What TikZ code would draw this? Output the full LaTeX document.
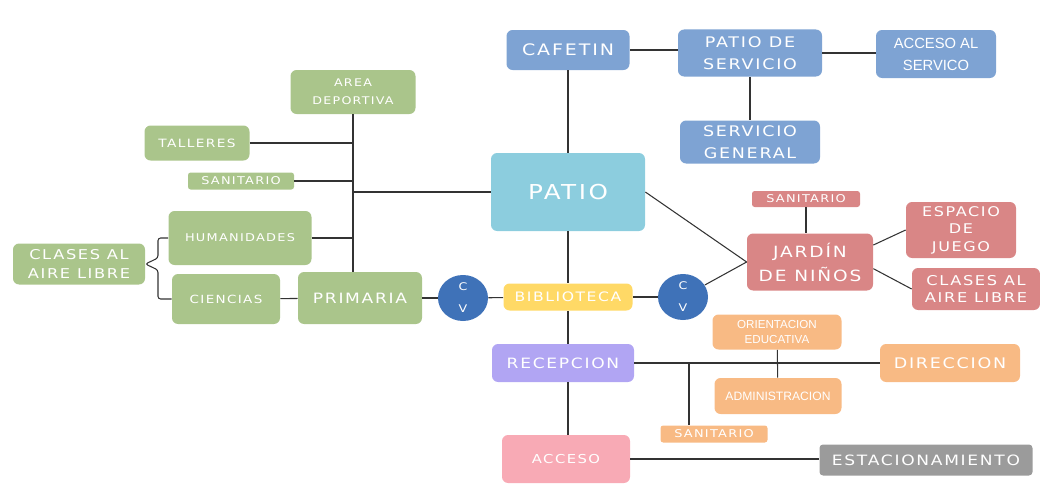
\documentclass[tikz,border=0pt]{standalone}
\usepackage{fontspec}
\newfontfamily\boxfont[LetterSpace=12, FakeStretch=1.2]{DejaVu Sans}
\newfontfamily\narrowfont{Liberation Sans}
\usetikzlibrary{positioning, shapes.geometric}
\definecolor{servblue}{HTML}{7EA3D3}
\definecolor{patiocyan}{HTML}{8CCDDE}
\definecolor{primgreen}{HTML}{AAC58B}
\definecolor{cvblue}{HTML}{3F72B8}
\definecolor{biblioyellow}{HTML}{FFD966}
\definecolor{kinderred}{HTML}{D98686}
\definecolor{adminorange}{HTML}{F8BA84}
\definecolor{recepviolet}{HTML}{B1A5F3}
\definecolor{accesopink}{HTML}{F8AAB5}
\definecolor{parkgray}{HTML}{9B9B9B}
\tikzstyle{box} = [rectangle, rounded corners=3.5pt, text=white, align=center, inner sep=0pt, font=\boxfont\fontsize{6.5}{11}\selectfont]
\tikzstyle{bluebox} = [box, fill=servblue]
\tikzstyle{greenbox} = [box, fill=primgreen]
\tikzstyle{redbox} = [box, fill=kinderred]
\tikzstyle{orangebox} = [box, fill=adminorange]
\tikzstyle{smallbox} = [font=\boxfont\fontsize{6.1}{7}\selectfont, rounded corners=1.5pt]
\tikzstyle{cvcircle} = [ellipse, fill=cvblue, text=white, align=center, inner sep=0pt, minimum width=1cm, minimum height=0.92cm, font=\boxfont\fontsize{6}{12.5}\selectfont]
\tikzstyle{link} = [draw=black!80, line width=0.6pt]

\begin{document}
\begin{tikzpicture}
\useasboundingbox (0,0) rectangle (20.8,-9.9);
%servicio
\node(cafetin)at(11.36,-1.0)[bluebox, minimum width=2.46cm, minimum height=0.8cm, font=\boxfont\fontsize{9}{11}\selectfont]{CAFETIN};
\node(patioserv)at(15.0,-1.06)[bluebox, minimum width=2.88cm, minimum height=0.94cm, font=\boxfont\fontsize{8.3}{12.5}\selectfont]{PATIO DE\\SERVICIO};
\node(accserv)at(18.72,-1.08)[bluebox, minimum width=2.4cm, minimum height=0.96cm, font=\narrowfont\fontsize{8.4}{12.5}\selectfont]{ACCESO AL\\SERVICO};
\node(servgen)at(15.0,-2.84)[bluebox, minimum width=2.8cm, minimum height=0.86cm, font=\boxfont\fontsize{8.3}{12.5}\selectfont]{SERVICIO\\GENERAL};
\node(patio)at(11.36,-3.84)[box, fill=patiocyan, minimum width=3.08cm, minimum height=1.56cm, font=\boxfont\fontsize{11.7}{13}\selectfont]{PATIO};

%primaria
\node(deportiva)at(7.06,-1.84)[greenbox, minimum width=2.5cm, minimum height=0.88cm, font=\boxfont\fontsize{6}{10.2}\selectfont]{AREA\\DEPORTIVA};
\node(talleres)at(3.94,-2.86)[greenbox, minimum width=2.1cm, minimum height=0.7cm]{TALLERES};
\node(sanprim)at(4.82,-3.62)[greenbox, smallbox, minimum width=2.12cm, minimum height=0.34cm]{SANITARIO};
\node(humanidades)at(4.8,-4.76)[greenbox, minimum width=2.86cm, minimum height=1.08cm, font=\boxfont\fontsize{6.1}{8}\selectfont]{HUMANIDADES};
\node(clasesprim)at(1.58,-5.28)[greenbox, minimum width=2.64cm, minimum height=0.82cm, font=\boxfont\fontsize{7.7}{10.8}\selectfont]{CLASES AL\\AIRE LIBRE};
\node(ciencias)at(4.52,-5.98)[greenbox, minimum width=2.16cm, minimum height=1.0cm, font=\boxfont\fontsize{6.4}{8}\selectfont]{CIENCIAS};
\node(primaria)at(7.2,-5.96)[greenbox, minimum width=2.48cm, minimum height=1.04cm, font=\boxfont\fontsize{8.1}{10}\selectfont]{PRIMARIA};
\coordinate(bracea)at(3.16,-5.16);
\coordinate(braceb)at(3.16,-5.40);

%centro
\node(cvprim)at(9.26,-5.96)[cvcircle]{C\\V};
\node(biblioteca)at(11.36,-5.94)[box, fill=biblioyellow, minimum width=2.58cm, minimum height=0.54cm, font=\boxfont\fontsize{7.4}{9}\selectfont]{BIBLIOTECA};
\node(cvkinder)at(13.66,-5.94)[cvcircle]{C\\V};

%jardin de ninos
\node(jardin)at(16.2,-5.24)[redbox, minimum width=2.52cm, minimum height=1.14cm, font=\boxfont\fontsize{8.8}{13.6}\selectfont]{JARDÍN\\DE NIÑOS};
\node(sankinder)at(16.12,-3.98)[redbox, smallbox, minimum width=2.16cm, minimum height=0.32cm]{SANITARIO};
\node(espacio)at(19.22,-4.6)[redbox, minimum width=2.2cm, minimum height=1.12cm, font=\boxfont\fontsize{7.6}{9.9}\selectfont]{ESPACIO\\DE\\JUEGO};
\node(claseskinder)at(19.52,-5.78)[redbox, minimum width=2.56cm, minimum height=0.84cm, font=\boxfont\fontsize{7.7}{10.2}\selectfont]{CLASES AL\\AIRE LIBRE};

%administracion
\node(orientacion)at(15.54,-6.64)[orangebox, minimum width=2.58cm, minimum height=0.7cm, font=\narrowfont\fontsize{6.6}{9}\selectfont]{ORIENTACION\\EDUCATIVA};
\node(recepcion)at(11.26,-7.26)[box, fill=recepviolet, minimum width=2.84cm, minimum height=0.76cm, font=\boxfont\fontsize{8.1}{10}\selectfont]{RECEPCION};
\node(direccion)at(19.0,-7.26)[orangebox, minimum width=2.8cm, minimum height=0.76cm, font=\boxfont\fontsize{8.3}{10}\selectfont]{DIRECCION};
\node(administracion)at(15.56,-7.92)[orangebox, minimum width=2.54cm, minimum height=0.72cm, font=\narrowfont\fontsize{6.9}{8}\selectfont]{ADMINISTRACION};
\node(sanadmin)at(14.28,-8.68)[orangebox, smallbox, minimum width=2.14cm, minimum height=0.34cm]{SANITARIO};
\coordinate(ramal)at(13.78,-7.26);
\node(acceso)at(11.32,-9.18)[box, fill=accesopink, minimum width=2.56cm, minimum height=0.96cm, font=\boxfont\fontsize{7}{9}\selectfont]{ACCESO};
\node(estacionamiento)at(18.52,-9.2)[box, fill=parkgray, rounded corners=2pt, minimum width=4.26cm, minimum height=0.62cm, font=\boxfont\fontsize{8.1}{10}\selectfont]{ESTACIONAMIENTO};

%lines
\draw[link](cafetin.east)--(cafetin.east -| patioserv.west);
\draw[link](patioserv.east)--(patioserv.east -| accserv.west);
\draw[link](patioserv)--(servgen);
\draw[link](cafetin)--(patio);
\draw[link](patio.south)--(biblioteca.north);
\draw[link](biblioteca.south)--(biblioteca.south |- recepcion.north);
\draw[link](biblioteca.south |- recepcion.south)--(biblioteca.south |- acceso.north);
\draw[link](patio.east)--(jardin.west);
\draw[link](cvkinder)--(jardin.west);
\draw[link](primaria)--(cvprim);
\draw[link](cvprim)--(biblioteca);
\draw[link](biblioteca)--(cvkinder);
\draw[link](ciencias)--(primaria);
    \draw[link](deportiva.south)--(deportiva.south |- primaria.north);
    \draw[link](talleres.east)--(talleres.east -| deportiva.south);
    \draw[link](sanprim.east)--(sanprim.east -| deportiva.south);
    \draw[link](humanidades.east)--(humanidades.east -| deportiva.south);
    \draw[link](patio.west)--(patio.west -| deportiva.south);
\draw[link, rounded corners=1.5pt](humanidades.west)-|(bracea)--(clasesprim.east)--(braceb)|-(ciencias.west);
\draw[link](sankinder)--(sankinder.south |- jardin.north);
\draw[link](jardin.15)--(espacio.west);
\draw[link](jardin.-6)--(claseskinder.west);
\draw[link](recepcion)--(direccion);
\draw[link](ramal)--(ramal |- sanadmin.north);
\draw[link](orientacion)--(administracion);
\draw[link](acceso.east)--(acceso.east -| estacionamiento.west);
\end{tikzpicture}
\end{document}
